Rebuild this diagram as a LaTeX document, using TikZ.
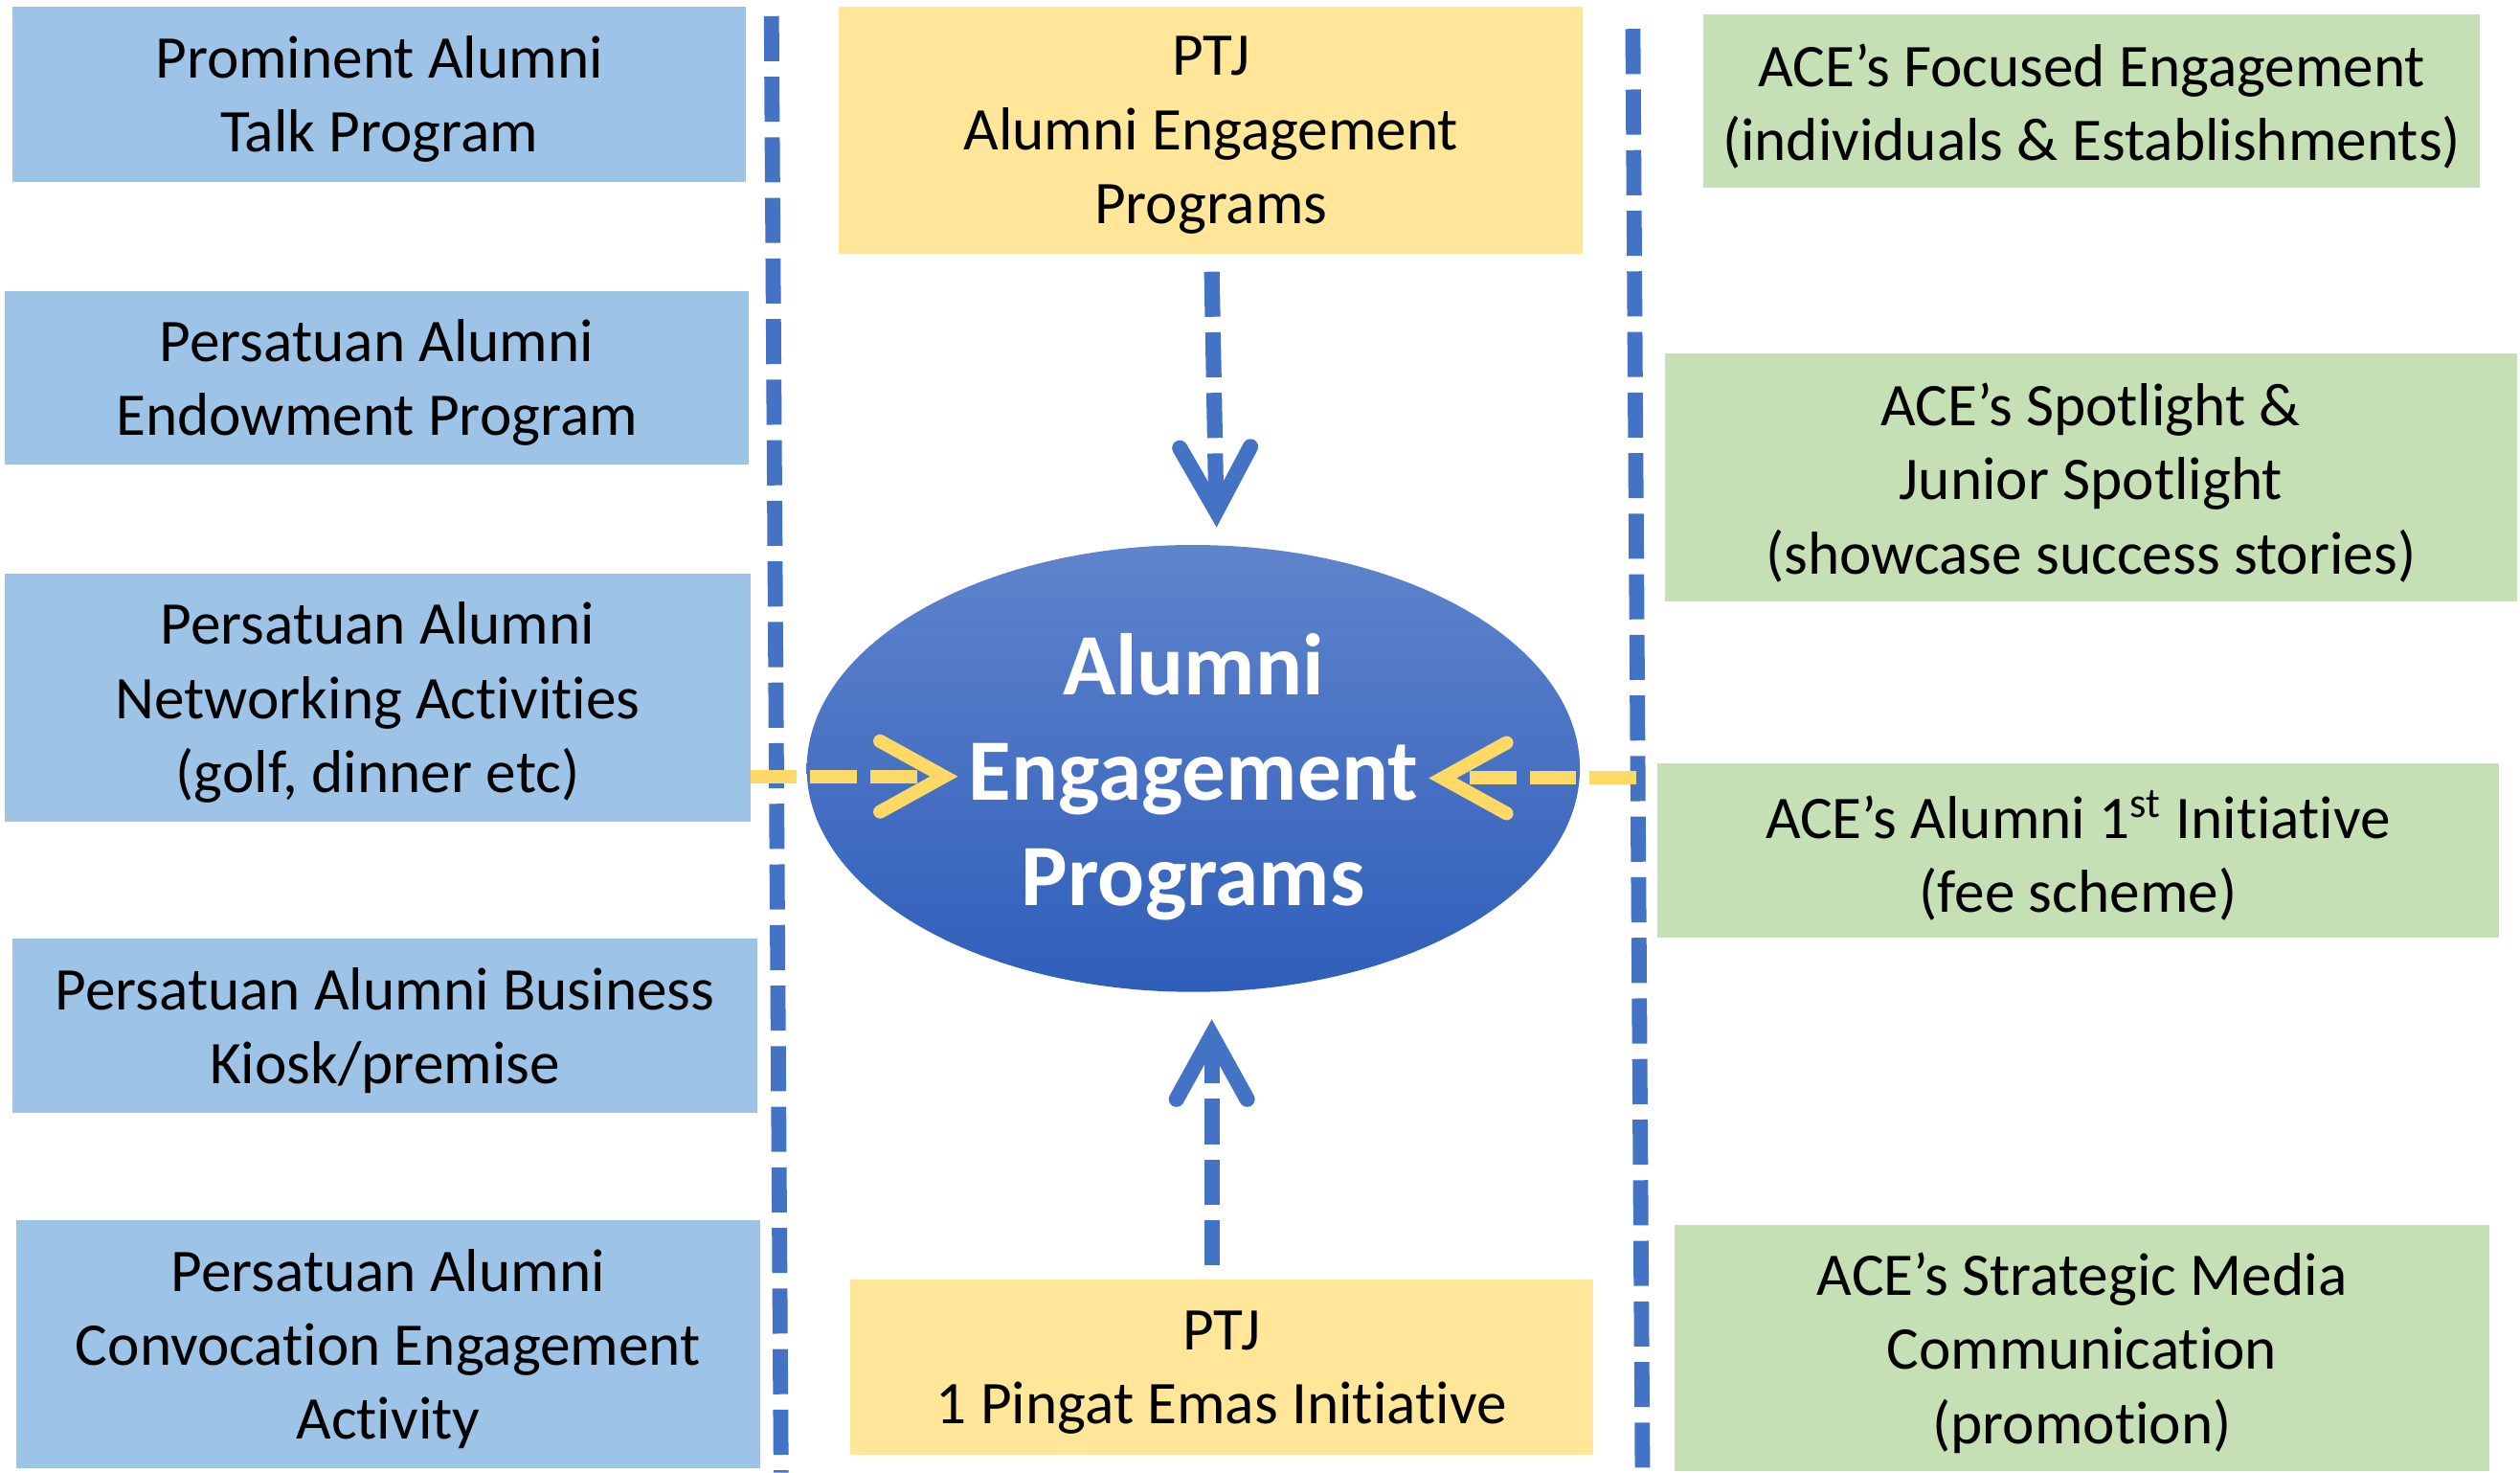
\documentclass[tikz,border=0pt]{standalone}
\usepackage{fontspec}
\setmainfont[Ligatures=NoCommon]{Carlito}
\usetikzlibrary{arrows.meta,shapes.geometric}

\definecolor{leftfill}{HTML}{9DC3E6}
\definecolor{midfill}{HTML}{FFE699}
\definecolor{rightfill}{HTML}{C5E0B4}
\definecolor{lineblue}{HTML}{4472C4}
\definecolor{lineyellow}{HTML}{FFD966}
\definecolor{hubtop}{HTML}{5F84CC}
\definecolor{hubbot}{HTML}{2F5EBA}

\begin{document}
\begin{tikzpicture}[x=0.016786cm, y=-0.016786cm,
  boxsize/.style 2 args={minimum width=#1*0.47761pt, minimum height=#2*0.47761pt},
  card/.style={inner sep=0pt},
  cardtext/.style={inner sep=0pt, align=center, text=black, yshift=-1.5pt,
    font=\fontsize{18}{22}\selectfont},
  leftcard/.style={card, fill=leftfill},
  midcard/.style={card, fill=midfill},
  rightcard/.style={card, fill=rightfill},
  hub/.style={ellipse, inner sep=0pt, draw=none,
    top color=hubtop, bottom color=hubbot},
  hubtext/.style={align=center, text=white, inner sep=0pt,
    font=\bfseries\fontsize{26}{31.3}\selectfont},
  divider/.style={draw=lineblue, line width=4.5pt,
    dash pattern=on 13.4pt off 4.6pt},
  head/.style={-{Straight Barb[length=19pt, width=21pt, line cap=round, line join=miter]}},
  bluearrow/.style={head, draw=lineblue, line width=4.6pt,
    dash pattern=on 13.4pt off 4.6pt},
  yellowarrow/.style={head, draw=lineyellow, line width=4pt,
    dash pattern=on 13.8pt off 4pt},
]
\useasboundingbox (0,0) rectangle (1568,916);

% left column
\node[leftcard, boxsize={456}{109}, label={[cardtext]center:{Prominent Alumni\\Talk Program}}] (l1) at (236,58.5) {};
\node[leftcard, boxsize={463}{108}, label={[cardtext]center:{Persatuan Alumni\\Endowment Program}}] (l2) at (234.5,235) {};
\node[leftcard, boxsize={464}{154}, label={[cardtext]center:{Persatuan Alumni\\Networking Activities\\(golf, dinner etc)}}] (l3) at (235,434) {};
\node[leftcard, boxsize={463}{108}, label={[cardtext]center:{Persatuan Alumni Business\\Kiosk/premise}}] (l4) at (239.5,638) {};
\node[leftcard, boxsize={463}{154}, label={[cardtext]center:{Persatuan Alumni\\Convocation Engagement\\Activity}}] (l5) at (241.5,836) {};

% middle column
\node[midcard, boxsize={463}{154}, label={[cardtext]center:{PTJ\\Alumni Engagement\\Programs}}] (m1) at (753.5,81) {};
\node[midcard, boxsize={462}{109}, label={[cardtext]center:{PTJ\\1 Pingat Emas Initiative}}] (m2) at (760,850.5) {};
\node[hub, boxsize={481}{278}] (hub) at (742.5,478) {};
\node[hubtext] (hubt) at (742.5,483) {Alumni\\Engagement\\Programs};

% right column
\node[rightcard, boxsize={483}{108}, label={[cardtext]center:{ACE’s Focused Engagement\\(individuals \& Establishments)}}] (r1) at (1301.5,63) {};
\node[rightcard, boxsize={530}{154}, label={[cardtext]center:{ACE’s Spotlight \&\\Junior Spotlight\\(showcase success stories)}}] (r2) at (1301,297) {};
\node[rightcard, boxsize={524}{108}, label={[cardtext]center:{ACE’s Alumni 1\textsuperscript{st} Initiative\\(fee scheme)}}] (r3) at (1293,529) {};
\node[rightcard, boxsize={507}{153}, label={[cardtext]center:{ACE’s Strategic Media\\Communication\\(promotion)}}] (r4) at (1295.5,838.5) {};

% dashed dividers
\coordinate (d1top) at (480,10);
\coordinate (d1bot) at (486,916);
\coordinate (d2top) at (1016,18);
\coordinate (d2bot) at (1022,916);
\draw[divider] (d1top) -- (d1bot);
\draw[divider] (d2top) -- (d2bot);

% arrows into the hub
\coordinate (a1s) at (754,169);
\coordinate (a1e) at (757,328);
\coordinate (a2s) at (754,787);
\coordinate (a2e) at (754,634);
\coordinate (a3s) at (467,483);
\coordinate (a3e) at (596,483);
\coordinate (a4s) at (1018,484);
\coordinate (a4e) at (889,484);
\draw[bluearrow] (a1s) -- (a1e);
\draw[bluearrow] (a2s) -- (a2e);
\draw[yellowarrow] (a3s) -- (a3e);
\draw[yellowarrow] (a4s) -- (a4e);
\end{tikzpicture}
\end{document}
